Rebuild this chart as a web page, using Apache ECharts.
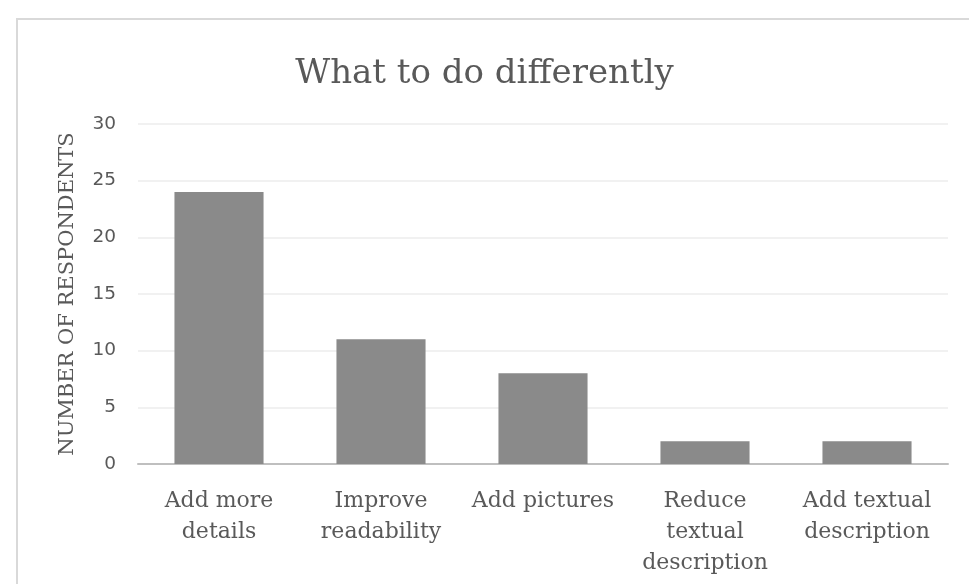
<!DOCTYPE html>
<html>
<head>
<meta charset="utf-8">
<script src="https://cdn.jsdelivr.net/npm/echarts@6/dist/echarts.min.js"></script>
<style>
html,body{margin:0;padding:0;background:#fff;}
#c{width:969px;height:584px;}
</style>
</head>
<body>
<div id="c"></div>
<script>
const titleText = "What to do differently";
const yAxisName = "NUMBER OF RESPONDENTS";
const categories = ["Add more\ndetails", "Improve\nreadability", "Add pictures", "Reduce\ntextual\ndescription", "Add textual\ndescription"];
const values = [24, 11, 8, 2, 2];
const yTicks = [0, 5, 10, 15, 20, 25, 30];

const serif = "'DejaVu Serif', serif";
const chart = echarts.init(document.getElementById('c'), null, {renderer: 'canvas'});
chart.setOption({
  animation: false,
  backgroundColor: '#ffffff',
  graphic: [{
    type: 'rect', silent: true, z: -1,
    shape: {x: 17, y: 19, width: 1100, height: 700},
    style: {fill: 'none', stroke: '#d9d9d9', lineWidth: 2}
  }],
  title: {
    text: titleText, left: 'center', top: 52,
    textStyle: {fontFamily: serif, fontSize: 34, fontWeight: 'normal', color: '#595959'}
  },
  grid: {left: 138, right: 21, top: 124, bottom: 120, containLabel: false},
  xAxis: {
    type: 'category', data: categories,
    axisLine: {lineStyle: {color: '#bfbfbf', width: 2}},
    axisTick: {show: false},
    axisLabel: {fontFamily: serif, fontSize: 22, color: '#595959', lineHeight: 31, margin: 22, interval: 0}
  },
  yAxis: {
    type: 'value', min: yTicks[0], max: yTicks[yTicks.length - 1], interval: yTicks[1] - yTicks[0],
    name: yAxisName, nameLocation: 'middle', nameRotate: 90, nameGap: 60,
    nameTextStyle: {fontFamily: serif, fontSize: 21, color: '#595959'},
    axisLine: {show: false}, axisTick: {show: false},
    axisLabel: {fontFamily: "'DejaVu Sans', sans-serif", fontSize: 18.5, color: '#595959', margin: 22},
    splitLine: {lineStyle: {color: '#ececec', width: 1.5}}
  },
  series: [{
    type: 'bar', data: values, barWidth: '55%',
    itemStyle: {color: '#8a8a8a'}
  }]
});
</script>
</body>
</html>
